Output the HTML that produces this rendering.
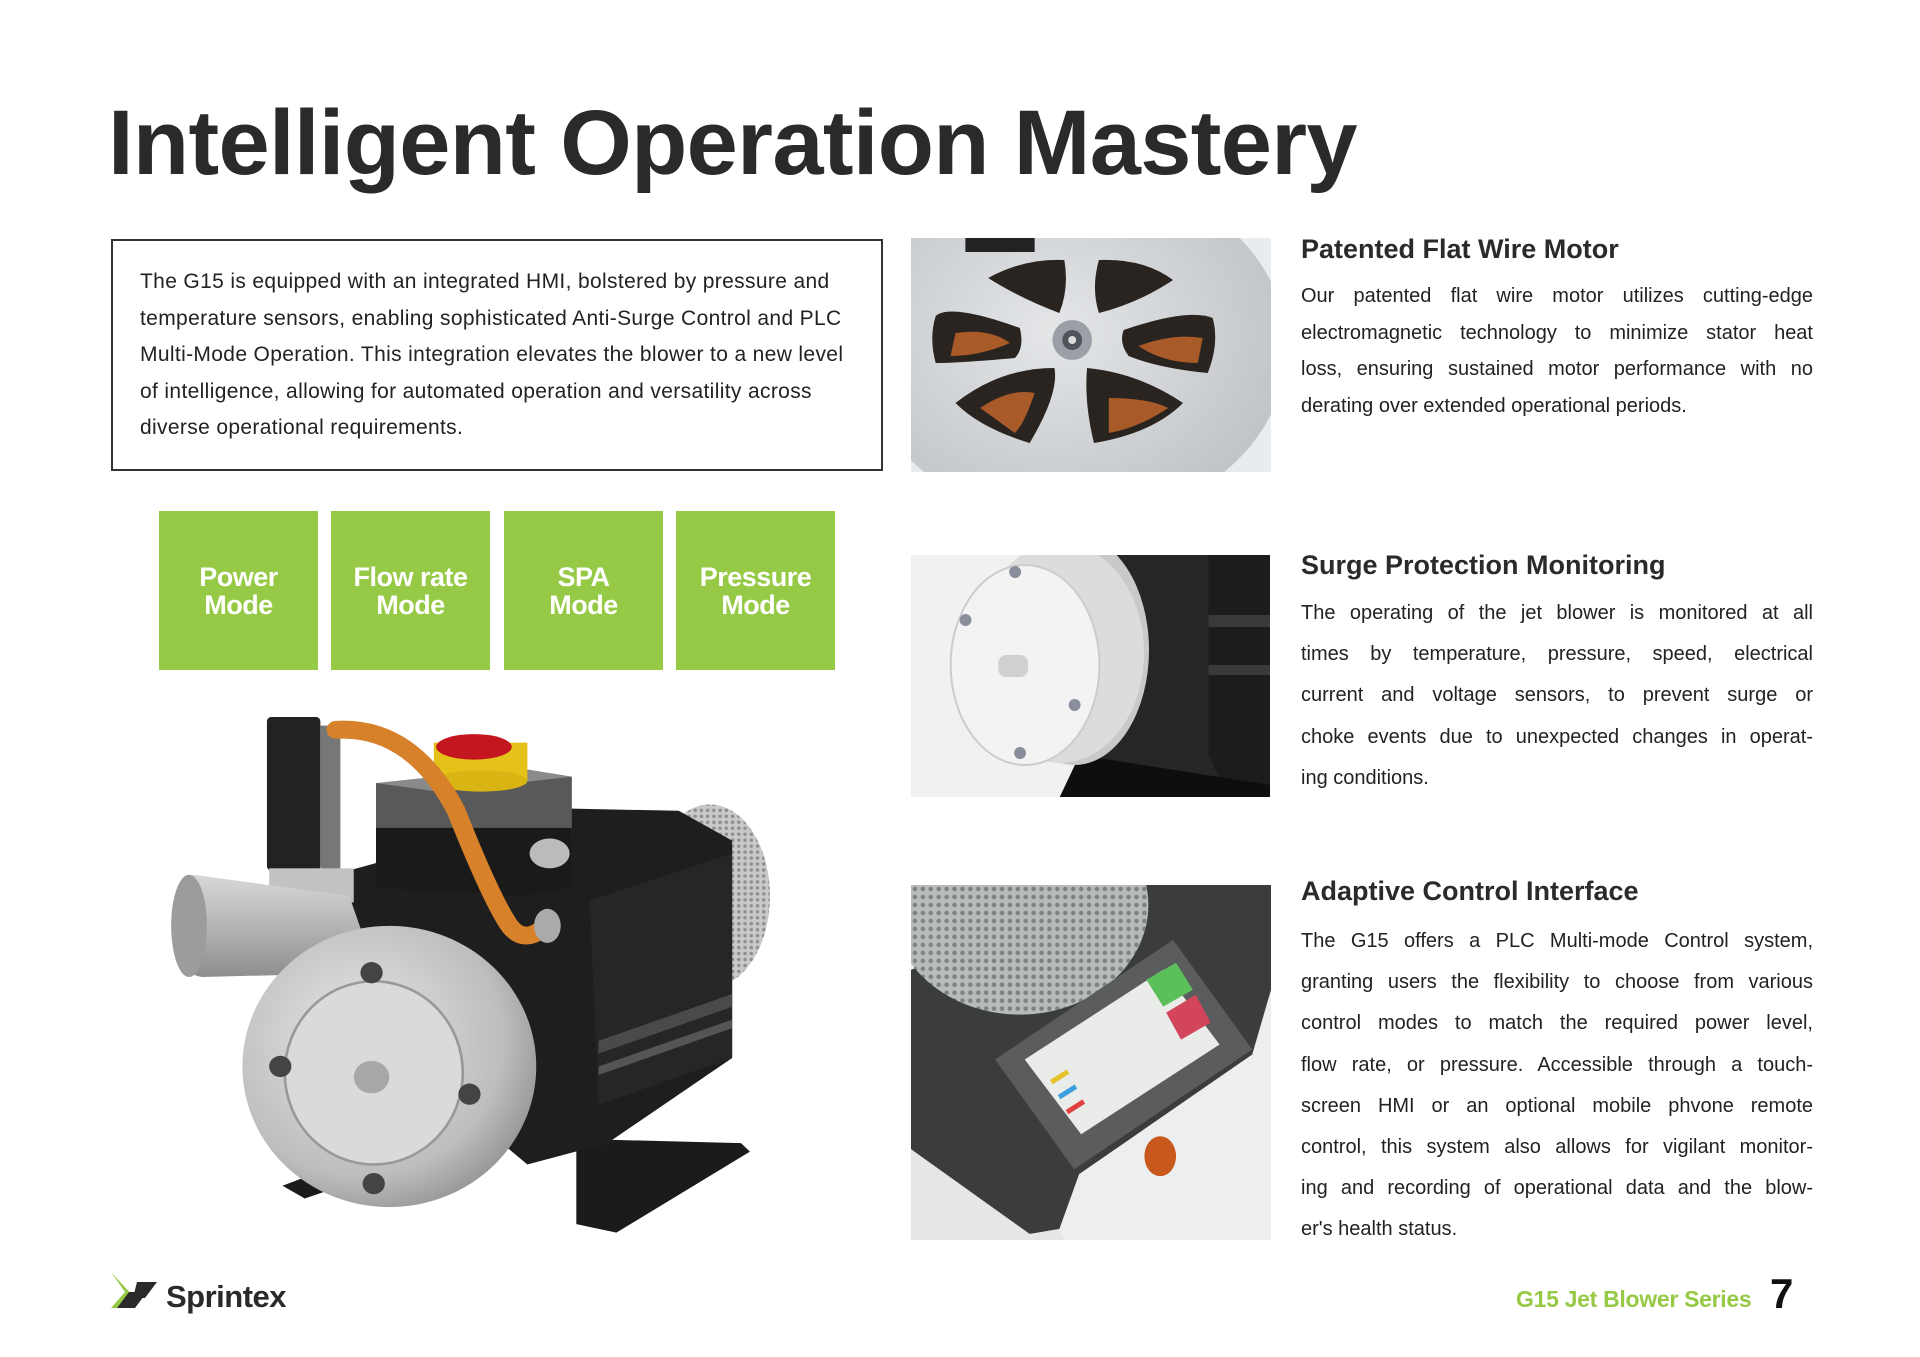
<!DOCTYPE html>
<html><head><meta charset="utf-8">
<style>
*{margin:0;padding:0;box-sizing:border-box}
body{width:1920px;height:1357px;background:#fff;position:relative;overflow:hidden;font-family:"Liberation Sans",sans-serif;color:#2a2a2a}
.abs{position:absolute}
h1{position:absolute;left:108px;top:88px;font-size:92px;font-weight:bold;letter-spacing:-0.65px;line-height:110px;color:#2a2a2a;white-space:nowrap}
.box{left:111px;top:239px;width:772px;height:232px;border:2.5px solid #333}
.box p{position:absolute;left:27px;top:23px;font-size:21px;letter-spacing:0.35px;line-height:36.6px;color:#222;white-space:nowrap}
.g{top:511px;width:159px;height:159px;background:#96c945;color:#fff;font-weight:bold;font-size:27px;line-height:28px;text-align:center;display:flex;align-items:center;justify-content:center;letter-spacing:-0.5px}
.h{left:1301px;font-size:27px;font-weight:bold;white-space:nowrap;color:#2a2a2a}
.t{left:1301px;width:512px;font-size:20px;color:#222}
.t div{text-align:justify;text-align-last:justify;white-space:nowrap}
.t div.l{text-align-last:left}
</style></head><body>
<h1>Intelligent Operation Mastery</h1>
<div class="abs box"><p>The G15 is equipped with an integrated HMI, bolstered by pressure and<br>temperature sensors, enabling sophisticated Anti-Surge Control and PLC<br>Multi-Mode Operation. This integration elevates the blower to a new level<br>of intelligence, allowing for automated operation and versatility across<br>diverse operational requirements.</p></div>
<div class="abs g" style="left:159px">Power<br>Mode</div>
<div class="abs g" style="left:331px">Flow rate<br>Mode</div>
<div class="abs g" style="left:504px">SPA<br>Mode</div>
<div class="abs g" style="left:676px">Pressure<br>Mode</div>

<!-- pump -->
<svg class="abs" style="left:100px;top:700px" width="690" height="620" viewBox="0 0 1550 1455" preserveAspectRatio="none">
<defs>
<radialGradient id="vol" cx="0.4" cy="0.4" r="0.7"><stop offset="0" stop-color="#e6e6e6"/><stop offset="0.7" stop-color="#bdbdbd"/><stop offset="1" stop-color="#8a8a8a"/></radialGradient>
<linearGradient id="pipe" x1="0" y1="0" x2="0" y2="1"><stop offset="0" stop-color="#d8d8d8"/><stop offset="0.5" stop-color="#b5b5b5"/><stop offset="1" stop-color="#8d8d8d"/></linearGradient>
<pattern id="knurl" width="14" height="14" patternUnits="userSpaceOnUse"><rect width="14" height="14" fill="#c9c9c9"/><circle cx="7" cy="7" r="4" fill="#8f8f8f"/></pattern>
</defs>
<polygon points="1070,1030 1440,1040 1460,1060 1160,1250 1070,1230" fill="#1b1b1b"/>
<polygon points="410,1140 560,1080 600,1120 460,1170" fill="#1b1b1b"/>
<ellipse cx="1370" cy="460" rx="135" ry="215" fill="url(#knurl)"/>
<polygon points="560,400 1060,255 1300,260 1420,330 1420,840 1140,1040 960,1090 560,740" fill="#1e1e1e"/>
<polygon points="1100,470 1420,360 1420,840 1120,950" fill="#262626"/>
<polygon points="1120,800 1420,690 1420,720 1120,830" fill="#4a4a4a"/>
<polygon points="1120,860 1420,750 1420,770 1120,880" fill="#555"/>
<polygon points="620,195 940,160 1060,180 1060,330 940,350 620,330" fill="#595959"/>
<polygon points="620,195 940,160 1060,180 760,215" fill="#8a8a8a"/>
<polygon points="620,300 1060,300 1060,440 940,460 620,440" fill="#1a1a1a"/>
<ellipse cx="1010" cy="360" rx="45" ry="35" fill="#bbb"/>
<rect x="750" y="100" width="210" height="90" fill="#e5c21a"/>
<ellipse cx="855" cy="190" rx="105" ry="25" fill="#d9b514"/>
<ellipse cx="840" cy="110" rx="85" ry="30" fill="#c4161e"/>
<rect x="375" y="40" width="120" height="360" rx="10" fill="#222"/>
<rect x="495" y="60" width="45" height="340" fill="#777"/>
<rect x="380" y="395" width="190" height="80" fill="#c2c2c2"/>
<path d="M210,410 L560,460 L620,640 L230,650 Q160,640 160,530 Q160,420 210,410 Z" fill="url(#pipe)"/>
<ellipse cx="200" cy="530" rx="40" ry="120" fill="#9c9c9c"/>
<circle cx="650" cy="860" r="330" fill="url(#vol)"/>
<ellipse cx="615" cy="875" rx="200" ry="215" fill="#dadada" stroke="#999" stroke-width="6"/>
<ellipse cx="610" cy="885" rx="40" ry="38" fill="#a8a8a8"/>
<circle cx="610" cy="640" r="25" fill="#444"/>
<circle cx="405" cy="860" r="25" fill="#444"/>
<circle cx="830" cy="925" r="25" fill="#444"/>
<circle cx="615" cy="1135" r="25" fill="#444"/>
<path d="M530,70 Q700,60 800,260 Q880,470 920,530 Q950,570 990,540" fill="none" stroke="#d7812a" stroke-width="42" stroke-linecap="round"/>
<ellipse cx="1005" cy="530" rx="30" ry="40" fill="#aaa"/>
</svg>

<!-- image 1 -->
<svg class="abs" style="left:911px;top:238px" width="360" height="234" viewBox="0 0 364 234" preserveAspectRatio="none">
<defs><radialGradient id="disc" cx="0.45" cy="0.45" r="0.7"><stop offset="0" stop-color="#e4e6e8"/><stop offset="1" stop-color="#b9bcc0"/></radialGradient></defs>
<rect width="364" height="234" fill="#e8ecf1"/>
<ellipse cx="165" cy="110" rx="215" ry="175" fill="url(#disc)"/>
<g fill="#2a2420">
<path d="M78,40 Q115,20 155,22 Q160,50 150,75 Q110,60 78,40Z"/>
<path d="M190,22 Q235,20 265,42 Q230,65 190,75 Q182,50 190,22Z"/>
<path d="M25,78 Q40,65 110,90 Q115,110 105,120 Q50,125 25,125 Q18,100 25,78Z"/>
<path d="M215,92 Q280,70 305,80 Q312,105 300,135 Q250,130 220,118 Q210,105 215,92Z"/>
<path d="M45,165 Q90,130 145,130 Q150,155 120,205 Q70,190 45,165Z"/>
<path d="M178,130 Q230,135 275,165 Q245,195 185,205 Q175,165 178,130Z"/>
</g>
<g fill="#a85a28">
<path d="M45,95 Q80,90 100,105 Q70,118 40,118Z"/><path d="M230,108 Q265,95 295,100 L290,125 Q255,125 230,108Z"/>
<path d="M70,170 Q100,150 125,155 Q115,185 105,195Z"/><path d="M200,160 Q240,160 260,170 Q230,190 200,195Z"/>
</g>
<circle cx="163" cy="102" r="20" fill="#9aa0a6"/><circle cx="163" cy="102" r="10" fill="#50555a"/><circle cx="163" cy="102" r="4" fill="#ddd"/>
<rect x="55" y="0" width="70" height="14" fill="#222"/>
</svg>

<!-- image 2 -->
<svg class="abs" style="left:911px;top:555px" width="359" height="242" viewBox="0 0 362 242" preserveAspectRatio="none">
<rect width="362" height="242" fill="#f1f1f1"/>
<polygon points="190,0 362,0 362,242 230,242 180,200" fill="#262627"/>
<polygon points="300,0 362,0 362,242 320,242 300,200" fill="#1c1c1d"/>
<rect x="300" y="60" width="62" height="12" fill="#3a3a3a"/><rect x="300" y="110" width="62" height="10" fill="#3a3a3a"/>
<polygon points="170,200 362,230 362,242 150,242" fill="#0e0e0e"/>
<ellipse cx="165" cy="95" rx="75" ry="115" fill="#c9c9c9"/>
<ellipse cx="150" cy="98" rx="85" ry="110" fill="#dcdcdc"/>
<ellipse cx="115" cy="110" rx="75" ry="100" fill="#f3f3f3" stroke="#ccc" stroke-width="2"/>
<rect x="88" y="100" width="30" height="22" rx="8" fill="#d0d0d0"/>
<circle cx="105" cy="17" r="6" fill="#8a8e9c"/><circle cx="55" cy="65" r="6" fill="#8a8e9c"/><circle cx="165" cy="150" r="6" fill="#8a8e9c"/><circle cx="110" cy="198" r="6" fill="#8a8e9c"/>
</svg>

<!-- image 3 -->
<svg class="abs" style="left:911px;top:885px" width="360" height="355" viewBox="0 0 364 356" preserveAspectRatio="none">
<defs><pattern id="k2" width="8" height="8" patternUnits="userSpaceOnUse"><rect width="8" height="8" fill="#b7bbbb"/><circle cx="4" cy="4" r="2.3" fill="#7d8282"/></pattern></defs>
<rect width="364" height="356" fill="#eceef0"/>
<polygon points="0,85 235,0 364,0 364,105 345,170 170,290 150,345 120,350 0,265" fill="#3b3c3e"/>
<polygon points="0,265 120,350 150,345 155,356 0,356" fill="#e4e6e8"/>
<ellipse cx="110" cy="20" rx="130" ry="110" fill="url(#k2)"/>
<polygon points="85,175 265,55 345,165 165,285" fill="#5a5c5e"/>
<polygon points="115,175 255,85 312,160 172,250" fill="#e9ece9"/>
<polygon points="238,95 268,78 285,105 255,122" fill="#5bbf5a"/>
<polygon points="258,128 288,110 303,138 273,155" fill="#d2455a"/>
<rect x="140" y="190" width="20" height="5" fill="#e5c22a" transform="rotate(-32 150 192)"/>
<rect x="148" y="205" width="20" height="5" fill="#3aa0e0" transform="rotate(-32 158 207)"/>
<rect x="156" y="220" width="20" height="5" fill="#e04040" transform="rotate(-32 166 222)"/>
<ellipse cx="252" cy="272" rx="16" ry="20" fill="#c8581c"/>
</svg>

<div class="abs h" style="top:234px">Patented Flat Wire Motor</div>
<div class="abs t" style="top:278px;line-height:36.5px">
<div>Our patented flat wire motor utilizes cutting-edge</div>
<div>electromagnetic technology to minimize stator heat</div>
<div>loss, ensuring sustained motor performance with no</div>
<div class="l">derating over extended operational periods.</div>
</div>
<div class="abs h" style="top:550px">Surge Protection Monitoring</div>
<div class="abs t" style="top:593px;line-height:41.2px">
<div>The operating of the jet blower is monitored at all</div>
<div>times by temperature, pressure, speed, electrical</div>
<div>current and voltage sensors, to prevent surge or</div>
<div>choke events due to unexpected changes in operat-</div>
<div class="l">ing conditions.</div>
</div>
<div class="abs h" style="top:876px">Adaptive Control Interface</div>
<div class="abs t" style="top:921px;line-height:41.2px">
<div>The G15 offers a PLC Multi-mode Control system,</div>
<div>granting users the flexibility to choose from various</div>
<div>control modes to match the required power level,</div>
<div>flow rate, or pressure. Accessible through a touch-</div>
<div>screen HMI or an optional mobile phvone remote</div>
<div>control, this system also allows for vigilant monitor-</div>
<div>ing and recording of operational data and the blow-</div>
<div class="l">er's health status.</div>
</div>

<!-- footer -->
<svg class="abs" style="left:111px;top:1272px" width="50" height="40" viewBox="0 0 50 40">
<polygon points="0,0 22,24 12,36 0,36 14,20" fill="#96c945"/>
<polygon points="18,20 36,20 24,36 6,36" fill="#2a2a2a"/>
<polygon points="26,10 46,10 34,26 22,26" fill="#2a2a2a"/>
</svg>
<div class="abs" style="left:166px;top:1279px;font-size:31px;font-weight:bold;letter-spacing:-0.5px;color:#2a2a2a">Sprintex</div>
<div class="abs" style="left:1516px;top:1286px;font-size:23px;font-weight:bold;color:#96c945;letter-spacing:-0.3px">G15 Jet Blower Series</div>
<div class="abs" style="left:1770px;top:1270px;font-size:42px;font-weight:bold;color:#111">7</div>
</body></html>
